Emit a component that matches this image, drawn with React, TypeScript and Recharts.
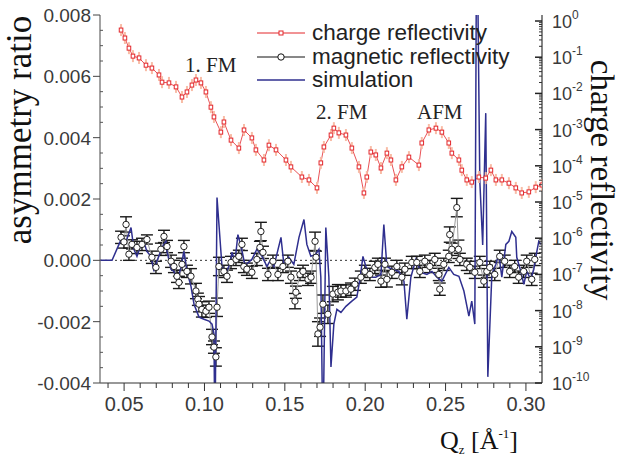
import React from 'react';
import { ComposedChart, Line, XAxis, YAxis, ErrorBar, ReferenceLine } from 'recharts';

// charge reflectivity (right log axis), values as log10(R)
const CHARGE_Q = [
  0.0481, 0.0505, 0.0530, 0.0555, 0.0593, 0.0636, 0.0673, 0.0717, 0.0736, 0.0779,
  0.0823, 0.0860, 0.0891, 0.0922, 0.0947, 0.0978, 0.1009, 0.1040, 0.1059, 0.1102,
  0.1121, 0.1165, 0.1214, 0.1246, 0.1295, 0.1320, 0.1370, 0.1401, 0.1445, 0.1507,
  0.1538, 0.1606, 0.1650, 0.1700, 0.1724, 0.1743, 0.1787, 0.1805, 0.1836, 0.1880,
  0.1917, 0.1961, 0.1992, 0.2010, 0.2035, 0.2066, 0.2098, 0.2135, 0.2160, 0.2191,
  0.2228, 0.2272, 0.2334, 0.2352, 0.2396, 0.2440, 0.2477, 0.2520, 0.2539, 0.2583,
  0.2601, 0.2632, 0.2663, 0.2707, 0.2750, 0.2782, 0.2813, 0.2850, 0.2894, 0.2937,
  0.2974, 0.3018, 0.3061, 0.3099,
];
const CHARGE_LOG = [
  -0.25, -0.47, -0.75, -0.97, -1.02, -1.22, -1.30, -1.49, -1.69, -1.71,
  -1.82, -2.10, -1.96, -1.77, -1.63, -1.71, -1.96, -2.38, -2.65, -3.07,
  -2.79, -3.29, -3.51, -3.01, -3.23, -3.56, -3.84, -3.43, -3.56, -3.84,
  -4.03, -4.31, -4.39, -4.61, -3.92, -3.48, -3.15, -2.96, -3.09, -3.15,
  -3.51, -4.03, -4.75, -4.31, -3.62, -3.70, -4.06, -3.65, -3.84, -4.39,
  -4.03, -3.76, -3.98, -3.37, -3.01, -2.96, -3.07, -3.37, -3.65, -3.84,
  -4.12, -4.39, -4.45, -4.31, -4.34, -4.12, -4.39, -4.39, -4.48, -4.61,
  -4.75, -4.72, -4.59, -4.53,
];

// magnetic reflectivity (asymmetry ratio, in units of 1e-3)
const MAG_Q = [
  0.0481, 0.0499, 0.0512, 0.0530, 0.0549, 0.0580, 0.0611, 0.0642, 0.0673, 0.0698,
  0.0729, 0.0748, 0.0767, 0.0792, 0.0810, 0.0829, 0.0841, 0.0860, 0.0872, 0.0891,
  0.0916, 0.0947, 0.0959, 0.0966, 0.0984, 0.1009, 0.1028, 0.1047, 0.1059, 0.1071,
  0.1078, 0.1090, 0.1121, 0.1140, 0.1165, 0.1196, 0.1214, 0.1233, 0.1245, 0.1264,
  0.1295, 0.1326, 0.1345, 0.1351, 0.1364, 0.1395, 0.1426, 0.1457, 0.1488, 0.1519,
  0.1538, 0.1563, 0.1569, 0.1594, 0.1613, 0.1644, 0.1663, 0.1688, 0.1694, 0.1706,
  0.1719, 0.1737, 0.1768, 0.1799, 0.1830, 0.1849, 0.1880, 0.1911, 0.1936, 0.1973,
  0.1998, 0.2029, 0.2060, 0.2079, 0.2098, 0.2123, 0.2135, 0.2166, 0.2197, 0.2228,
  0.2247, 0.2290, 0.2321, 0.2340, 0.2371, 0.2402, 0.2433, 0.2458, 0.2464, 0.2489,
  0.2520, 0.2526, 0.2539, 0.2570, 0.2580, 0.2589, 0.2632, 0.2651, 0.2682, 0.2713,
  0.2738, 0.2757, 0.2775, 0.2806, 0.2837, 0.2868, 0.2899, 0.2930, 0.2955, 0.2986,
  0.3005, 0.3036, 0.3055,
];
const MAG_VAL = [
  0.75, 0.6, 1.17, 0.2, 0.52, 0.42, 0.52, 0.68, 0.1, -0.23,
  0.36, 0.78, 0.45, -0.03, -0.2, -0.52, -0.72, -0.13, 0.45, -0.36,
  -0.52, -1.0, -1.27, -1.43, -1.6, -1.66, -1.53, -2.5, -2.83, -3.15,
  -1.53, -0.2, -0.36, -0.52, -0.07, 0.03, 0.13, 0.52, -0.2, -0.29,
  -0.39, 0.03, 0.42, 0.94, 0.26, -0.46, -0.03, -0.46, -0.2, -0.03,
  -0.55, -1.33, -1.04, -0.46, -0.36, -0.62, -0.55, 0.62, 0.1, -2.4,
  -2.18, -1.43, -1.76, -1.1, -1.04, -1.0, -1.0, -0.94, -0.78, -0.55,
  -0.36, -0.46, -0.23, -0.13, -0.68, -0.13, -0.62, -0.39, -0.2, -0.55,
  -0.29, -0.07, -0.07, -0.36, -0.03, -0.2, 0.03, -0.46, -0.94, -0.13,
  0.13, 0.84, 0.36, 1.72, 0.36, 0.03, -0.13, -0.23, -0.39, -0.07,
  -0.68, -0.36, -0.23, -0.46, 0.13, -0.03, -0.36, -0.2, -0.55, -0.36,
  -0.03, -0.62, 0.03,
];
const MAG_ERR = [
  0.2, 0.2, 0.25, 0.2, 0.15, 0.2, 0.2, 0.15, 0.2, 0.2,
  0.2, 0.2, 0.2, 0.2, 0.2, 0.2, 0.2, 0.2, 0.2, 0.2,
  0.25, 0.25, 0.2, 0.25, 0.25, 0.2, 0.2, 0.25, 0.2, 0.3,
  0.3, 0.3, 0.2, 0.2, 0.2, 0.2, 0.2, 0.2, 0.2, 0.2,
  0.2, 0.2, 0.2, 0.3, 0.2, 0.2, 0.2, 0.2, 0.2, 0.2,
  0.2, 0.25, 0.2, 0.2, 0.2, 0.2, 0.2, 0.3, 0.2, 0.4,
  0.3, 0.3, 0.3, 0.25, 0.25, 0.2, 0.2, 0.2, 0.2, 0.2,
  0.2, 0.2, 0.2, 0.2, 0.2, 0.2, 0.25, 0.2, 0.2, 0.25,
  0.2, 0.2, 0.2, 0.2, 0.2, 0.2, 0.2, 0.2, 0.2, 0.2,
  0.2, 0.25, 0.2, 0.3, 0.3, 0.2, 0.2, 0.2, 0.2, 0.2,
  0.2, 0.2, 0.2, 0.2, 0.2, 0.2, 0.2, 0.2, 0.2, 0.2,
  0.2, 0.2, 0.2,
];

// simulation (asymmetry ratio, units of 1e-3)
const SIM_Q = [
  0.0350, 0.0425, 0.0468, 0.0487, 0.0512, 0.0543, 0.0561, 0.0580, 0.0605, 0.0624,
  0.0642, 0.0667, 0.0686, 0.0704, 0.0736, 0.0760, 0.0767, 0.0792, 0.0810, 0.0829,
  0.0854, 0.0872, 0.0891, 0.0916, 0.0935, 0.0966, 0.0997, 0.1028, 0.1047, 0.1059,
  0.1065, 0.1078, 0.1109, 0.1134, 0.1158, 0.1171, 0.1190, 0.1208, 0.1227, 0.1252,
  0.1295, 0.1326, 0.1358, 0.1389, 0.1413, 0.1432, 0.1476, 0.1494, 0.1525, 0.1556,
  0.1588, 0.1619, 0.1637, 0.1662, 0.1693, 0.1712, 0.1724, 0.1737, 0.1755, 0.1774,
  0.1787, 0.1805, 0.1824, 0.1849, 0.1880, 0.1917, 0.1948, 0.1967, 0.1986, 0.2004,
  0.2035, 0.2066, 0.2098, 0.2116, 0.2135, 0.2166, 0.2209, 0.2241, 0.2259, 0.2284,
  0.2315, 0.2346, 0.2384, 0.2415, 0.2446, 0.2477, 0.2520, 0.2551, 0.2583, 0.2614,
  0.2645, 0.2663, 0.2682, 0.2694, 0.2713, 0.2731, 0.2750, 0.2763, 0.2788, 0.2813,
  0.2831, 0.2850, 0.2875, 0.2894, 0.2912, 0.2937, 0.2943, 0.2968, 0.2987, 0.3005,
  0.3030, 0.3049, 0.3068, 0.3080, 0.3093,
];
const SIM_VAL = [
  0, 0, 0.52, 0.75, 0.62, 1.07, 0.36, 0.13, 0.52, 0.58,
  0.29, 0.13, -0.36, -0.03, 0.42, 0.62, 0.29, -0.29, -0.36, -0.68,
  -0.23, 0.29, -0.36, -0.85, -1.43, -1.85, -1.92, -1.98, -2.08, -2.4,
  -6, 2.05, -0.2, -0.39, -0.13, 0.26, -0.03, 0.84, 0.46, -0.16,
  0.03, 0.36, 0.13, -0.2, 0.03, -0.2, 0.75, -0.13, 0.1, -0.13,
  0.75, 1.33, 0.52, 0.13, 0.2, 0.36, -0.55, -6, 1.07, -0.55,
  -3.48, -2.08, -1.6, -1.7, -1.5, -1.33, -1.2, -0.62, 0.13, -0.2,
  -0.55, -0.55, -0.46, 1.17, -0.2, -0.29, -0.36, -0.68, -1.92, -0.55,
  0.03, -0.39, -0.46, -0.36, -0.55, -0.68, -0.23, -0.46, -0.52, -1.0,
  -1.82, -1.33, -2.08, 12, 2.6, 0.5, 4.8, -3.8, -0.46, -0.13,
  0.2, -0.55, 0.52, 0.62, 0.94, 0.75, 0.1, -0.36, -0.78, -0.36,
  -0.62, -0.29, 0.29, 0.62, 0.52,
];

const X_MAJOR = [0.05, 0.1, 0.15, 0.2, 0.25, 0.3];
const X_MINOR = [0.04, 0.06, 0.07, 0.08, 0.09, 0.11, 0.12, 0.13, 0.14, 0.16, 0.17, 0.18, 0.19,
  0.21, 0.22, 0.23, 0.24, 0.26, 0.27, 0.28, 0.29];
const LEFT_MAJOR = [-0.004, -0.002, 0, 0.002, 0.004, 0.006, 0.008];
const RIGHT_EXP = [0, -1, -2, -3, -4, -5, -6, -7, -8, -9, -10];

const chargeData = CHARGE_Q.map((q, i) => ({ q, r: Math.pow(10, CHARGE_LOG[i]) }));
const magData = MAG_Q.map((q, i) => ({ q, m: MAG_VAL[i] / 1000, err: MAG_ERR[i] / 1000 }));
const simData = SIM_Q.map((q, i) => ({ q, s: SIM_VAL[i] / 1000 }));

const X_ALL = [...X_MAJOR, ...X_MINOR].sort((a, b) => a - b);
const LEFT_ALL: number[] = [];
for (let k = 0; k <= 24; k++) LEFT_ALL.push(Math.round((-0.004 + k * 0.0005) * 1e5) / 1e5);
const RIGHT_ALL: number[] = [];
RIGHT_EXP.forEach((e) => {
  RIGHT_ALL.push(Math.pow(10, e));
  if (e < 0) for (let m = 2; m <= 9; m++) RIGHT_ALL.push(m * Math.pow(10, e));
});

const SANS = '"Liberation Sans", Arial, sans-serif';
const SERIF = '"Liberation Serif", "Times New Roman", serif';
const TICK_COLOR = '#3a3a3a';
const RED = '#e3262b';
const NAVY = '#2f2f8f';

const near = (a: number, list: number[]) => list.some((t) => Math.abs(t - a) < 1e-7);

const BottomTick = (p: any) => {
  const { x, y, payload } = p;
  const major = near(payload.value, X_MAJOR);
  return (
    <g>
      <line x1={x} x2={x} y1={y} y2={y + (major ? 8 : 5)} stroke="#333" strokeWidth={1} />
      {major && (
        <text x={x} y={y + 28} textAnchor="middle" fontFamily={SANS} fontSize={20} fill={TICK_COLOR}>
          {payload.value.toFixed(2)}
        </text>
      )}
    </g>
  );
};

const TopTick = (p: any) => {
  const { x, y, payload } = p;
  const major = near(payload.value, X_MAJOR);
  return <line x1={x} x2={x} y1={y} y2={y + (major ? 6 : 5)} stroke="#333" strokeWidth={1} />;
};

const LeftTick = (p: any) => {
  const { x, y, payload } = p;
  const major = near(payload.value, LEFT_MAJOR);
  if (!major) return <line x1={x} x2={x + 3} y1={y} y2={y} stroke="#555" strokeWidth={1} />;
  return (
    <g>
      <line x1={x - 7} x2={x} y1={y} y2={y} stroke="#444" strokeWidth={1} />
      <text x={x - 9} y={y} dy="0.36em" textAnchor="end" fontFamily={SANS} fontSize={19} fill={TICK_COLOR}>
        {payload.value.toFixed(3)}
      </text>
    </g>
  );
};

const RightTick = (p: any) => {
  const { x, y, payload } = p;
  const lg = Math.log10(payload.value);
  const e = Math.round(lg);
  const major = Math.abs(lg - e) < 1e-6;
  if (!major) return <line x1={x - 3} x2={x} y1={y} y2={y} stroke="#333" strokeWidth={1} />;
  return (
    <g>
      <line x1={x - 7} x2={x} y1={y} y2={y} stroke="#222" strokeWidth={1.5} />
      <text x={x + 10} y={y + 7} fontFamily={SANS} fontSize={18} fill={TICK_COLOR}>
        10
        <tspan fontSize={12} dy={-9}>{e === 0 ? '0' : `-${-e}`}</tspan>
      </text>
    </g>
  );
};

const ChargeDot = (p: any) => {
  const { cx, cy, index } = p;
  if (cx == null || cy == null) return <g key={`c${index}`} />;
  return (
    <g key={`c${index}`}>
      <line x1={cx} x2={cx} y1={cy - 6} y2={cy + 6} stroke="#f8bca6" strokeWidth={2} />
      <rect x={cx - 1.8} y={cy - 2} width={3.6} height={4} fill="#fff" stroke={RED} strokeWidth={1} />
    </g>
  );
};

const MagDot = (p: any) => {
  const { cx, cy, index } = p;
  if (cx == null || cy == null) return <g key={`m${index}`} />;
  return <circle key={`m${index}`} cx={cx} cy={cy} r={3.2} fill="#fff" stroke="#222" strokeWidth={1} />;
};

export default function App() {
  return (
    <div style={{ position: 'absolute', left: 0, top: 0, width: 622, height: 458, background: '#fff' }}>
      <ComposedChart width={622} height={458} margin={{ top: 15, right: 0, bottom: 0, left: 0 }}>
        <XAxis
          dataKey="q"
          type="number"
          domain={[0.035, 0.31]}
          allowDataOverflow
          ticks={X_ALL}
          interval={0}
          height={75}
          tickSize={0}
          tickMargin={0}
          tickLine={false}
          axisLine={{ stroke: '#333', strokeWidth: 1.2 }}
          tick={<BottomTick />}
        />
        <XAxis
          xAxisId="top"
          orientation="top"
          dataKey="q"
          type="number"
          domain={[0.035, 0.31]}
          allowDataOverflow
          ticks={X_ALL}
          interval={0}
          height={0}
          tickSize={0}
          tickMargin={0}
          tickLine={false}
          axisLine={{ stroke: '#333', strokeWidth: 1.2 }}
          tick={<TopTick />}
        />
        <YAxis
          yAxisId="left"
          type="number"
          domain={[-0.004, 0.008]}
          allowDataOverflow
          ticks={LEFT_ALL}
          interval={0}
          width={100}
          tickSize={0}
          tickMargin={0}
          tickLine={false}
          axisLine={{ stroke: '#666', strokeWidth: 1.2 }}
          tick={<LeftTick />}
        />
        <YAxis
          yAxisId="right"
          orientation="right"
          scale="log"
          type="number"
          domain={[1e-10, Math.pow(10, 0.166)]}
          allowDataOverflow
          ticks={RIGHT_ALL}
          interval={0}
          width={80}
          tickSize={0}
          tickMargin={0}
          tickLine={false}
          axisLine={{ stroke: '#333', strokeWidth: 1.2 }}
          tick={<RightTick />}
        />
        <ReferenceLine yAxisId="left" y={0} stroke="#333" strokeDasharray="2 3" strokeWidth={1} />
        <Line
          yAxisId="right"
          data={chargeData}
          dataKey="r"
          stroke={RED}
          strokeWidth={0.8}
          dot={(p: any) => <ChargeDot key={`c${p.index}`} {...p} />}
          isAnimationActive={false}
          legendType="none"
        />
        <Line
          yAxisId="left"
          data={magData}
          dataKey="m"
          stroke="#9a9a9a"
          strokeWidth={1}
          dot={(p: any) => <MagDot key={`m${p.index}`} {...p} />}
          isAnimationActive={false}
        >
          <ErrorBar dataKey="err" direction="y" width={6} stroke="#1a1a1a" strokeWidth={1.4} />
        </Line>
        <Line
          yAxisId="left"
          data={simData}
          dataKey="s"
          stroke={NAVY}
          strokeWidth={1.5}
          dot={false}
          isAnimationActive={false}
        />
      </ComposedChart>

      <svg width={622} height={458} style={{ position: 'absolute', left: 0, top: 0, pointerEvents: 'none' }}>
        {/* legend */}
        <line x1={257} x2={305} y1={33} y2={33} stroke={RED} strokeWidth={1} />
        <rect x={279} y={31} width={4} height={4} fill="#fff" stroke={RED} strokeWidth={1} />
        <text x={312} y={40} fontFamily={SANS} fontSize={22.5} fill="#222">charge reflectivity</text>
        <line x1={257} x2={305} y1={57} y2={57} stroke="#111" strokeWidth={1} />
        <circle cx={281} cy={57} r={3.2} fill="#fff" stroke="#111" strokeWidth={1} />
        <text x={312} y={64} fontFamily={SANS} fontSize={22.5} fill="#222">magnetic reflectivity</text>
        <line x1={257} x2={305} y1={80} y2={80} stroke={NAVY} strokeWidth={1.5} />
        <text x={312} y={87} fontFamily={SANS} fontSize={22.5} fill="#222">simulation</text>

        {/* annotations */}
        <text x={185} y={72} fontFamily={SERIF} fontSize={21} fill="#222">1. FM</text>
        <text x={316} y={119} fontFamily={SERIF} fontSize={21} fill="#222">2. FM</text>
        <text x={417} y={119} fontFamily={SERIF} fontSize={21} fill="#222">AFM</text>

        {/* axis titles */}
        <text transform="translate(31,130) rotate(-90)" textAnchor="middle" fontFamily={SERIF} fontSize={35} fill="#111">
          asymmetry ratio
        </text>
        <text transform="translate(591,180) rotate(90)" textAnchor="middle" fontFamily={SERIF} fontSize={33} fill="#111">
          charge reflectivity
        </text>
        <text x={440} y={449} fontFamily={SERIF} fontSize={26} fill="#111">
          Q<tspan fontSize={13} dy={5}>z</tspan>
          <tspan dy={-5}> [Å</tspan>
          <tspan fontSize={13} dy={-11}>-1</tspan>
          <tspan dy={11}>]</tspan>
        </text>
      </svg>
    </div>
  );
}
